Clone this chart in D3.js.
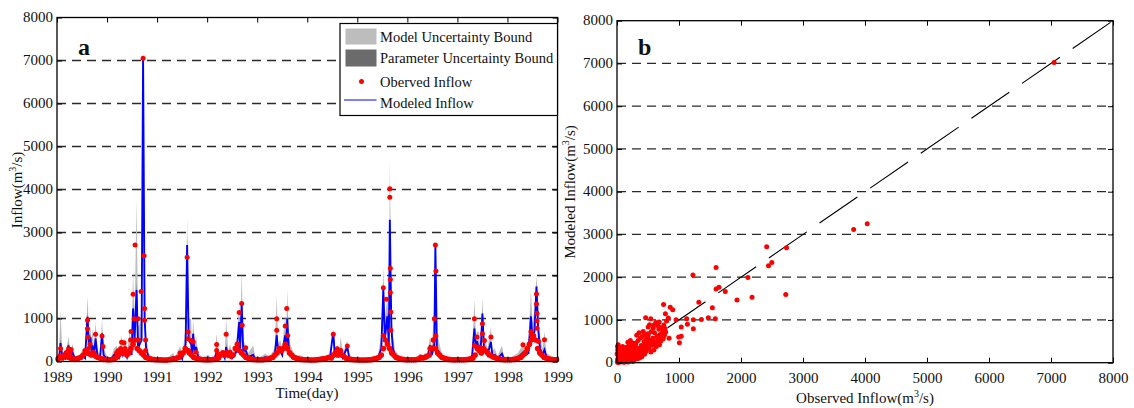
<!DOCTYPE html>
<html><head><meta charset="utf-8">
<script src="https://cdn.jsdelivr.net/npm/d3@7"></script>
<style>
body{margin:0;background:#fff}
svg{display:block}
text{font-family:"Liberation Serif","Times New Roman",serif;fill:#111}
</style>
</head><body>
<svg id="c" width="1134" height="408"></svg>
<script>
// ---------------- DATA ----------------
const yearTicks = [1989,1990,1991,1992,1993,1994,1995,1996,1997,1998,1999];
const flowTicks = [0,1000,2000,3000,4000,5000,6000,7000,8000];
const gridValues = [1000,2000,3000,4000,5000,6000,7000];

// modeled inflow and uncertainty bounds (decimal year)
const modelTime = [
 1989.00,1989.04,1989.07,1989.11,1989.17,1989.23,1989.27,1989.31,1989.36,1989.45,1989.51,1989.56,1989.61,1989.64,1989.67,1989.69,1989.71,1989.74,1989.77,1989.81,1989.86,1989.90,1989.93,
 1990.00,1990.08,1990.14,1990.19,1990.24,1990.29,1990.32,1990.36,1990.40,1990.45,1990.49,1990.52,1990.55,1990.59,1990.62,1990.66,1990.69,1990.72,1990.75,1990.78,1990.83,1990.90,
 1991.00,1991.20,1991.32,1991.36,1991.46,1991.50,1991.57,1991.60,1991.63,1991.68,1991.70,1991.72,1991.75,1991.78,1991.82,1991.90,
 1992.02,1992.08,1992.15,1992.19,1992.23,1992.32,1992.35,1992.38,1992.42,1992.46,1992.50,1992.55,1992.59,1992.64,1992.66,1992.69,1992.72,1992.77,1992.82,1992.92,1992.96,
 1993.05,1993.16,1993.25,1993.35,1993.39,1993.42,1993.46,1993.50,1993.53,1993.56,1993.58,1993.60,1993.63,1993.66,1993.72,1993.78,1993.89,1993.95,
 1994.10,1994.29,1994.35,1994.39,1994.45,1994.52,1994.55,1994.60,1994.63,1994.67,1994.71,1994.80,1994.84,1994.92,
 1995.10,1995.32,1995.40,1995.48,1995.52,1995.55,1995.60,1995.63,1995.65,1995.68,1995.71,1995.76,1995.85,
 1996.00,1996.20,1996.25,1996.30,1996.35,1996.40,1996.45,1996.49,1996.54,1996.56,1996.59,1996.65,1996.70,1996.82,
 1997.00,1997.19,1997.29,1997.34,1997.37,1997.39,1997.43,1997.46,1997.50,1997.53,1997.56,1997.60,1997.67,1997.70,1997.75,1997.80,1997.89,1997.93,
 1998.05,1998.21,1998.31,1998.36,1998.42,1998.47,1998.50,1998.54,1998.58,1998.61,1998.65,1998.70,1998.74,1998.78,1998.88,1999.00
];
const modeledFlow = [
 40,60,430,80,60,375,100,200,60,50,140,80,1040,300,560,200,374,150,530,120,80,647,150,
 60,50,150,180,90,300,150,250,100,300,150,1230,500,1660,300,430,500,7050,1000,300,100,50,
 40,40,100,50,150,60,400,2711,500,400,200,647,200,335,100,50,
 90,40,60,250,80,150,80,335,120,200,80,150,250,919,300,1324,250,250,100,150,60,
 50,100,60,150,607,200,250,150,400,607,300,997,300,200,150,80,60,40,
 40,60,50,80,60,686,150,250,100,300,100,335,80,40,
 35,60,40,300,1698,500,1050,400,3295,800,300,120,60,
 40,40,100,60,100,80,374,150,400,2711,300,150,60,60,
 40,60,80,763,300,468,300,150,1114,300,250,150,452,120,150,60,180,60,
 40,100,200,150,200,1048,500,700,1746,800,300,150,272,100,60,40
];
const modelUpperBound = [
 80,200,1200,160,120,590,200,410,120,100,250,150,1530,600,800,400,787,300,935,250,160,1000,300,
 120,100,300,374,180,600,300,500,200,700,400,2127,1000,3786,800,900,1200,7200,2500,600,200,100,
 80,80,200,100,374,120,800,3350,1000,997,400,1013,400,600,200,100,
 156,80,120,647,160,257,160,997,250,400,160,300,500,1324,600,2127,500,374,200,374,120,
 100,180,120,300,1542,400,500,300,700,1075,600,1680,600,400,220,150,140,80,
 80,120,100,150,120,763,300,390,200,569,200,490,160,80,
 70,120,80,600,2204,1000,1500,800,4750,1600,600,250,120,
 80,80,180,120,200,160,569,350,1348,2750,700,374,120,100,
 80,100,150,1441,600,700,686,300,1480,600,500,300,802,250,300,120,374,120,
 80,200,400,300,500,1700,900,1200,2000,1500,600,300,698,200,120,80
];
const paramUpperBound = [
 50,80,520,100,70,430,120,240,70,60,170,100,1150,350,620,240,420,180,580,140,100,700,180,
 70,60,180,210,110,340,180,280,120,350,180,1350,600,1850,360,500,600,7120,1200,350,120,60,
 50,50,130,60,180,70,480,2905,600,480,240,700,240,380,120,60,
 110,50,70,300,100,170,100,400,140,240,100,180,300,1000,350,1420,300,280,120,180,70,
 60,120,70,180,700,240,300,180,460,700,350,1100,350,240,170,100,70,50,
 50,70,60,100,70,700,180,280,120,340,120,360,100,50,
 45,70,50,350,1854,600,1150,480,3334,950,350,140,70,
 50,50,120,70,120,100,420,180,500,2720,360,180,70,70,
 50,70,100,850,350,520,350,180,1200,350,300,180,500,140,180,70,210,70,
 50,120,240,180,240,1150,600,800,1800,950,350,180,320,120,70,50
];

// observed inflow, semi-monthly base flow (24 per year, 1989-1998)
const observedBase = [
 60,120,80,150,200,100,80,60,50,60,80,100,150,250,200,180,150,200,120,100,80,60,50,45,
 40,40,50,60,100,150,200,250,200,150,200,300,400,500,300,250,200,150,100,80,60,50,45,40,
 40,40,35,35,35,40,45,50,60,80,100,150,200,300,250,200,150,100,80,60,50,45,40,40,
 40,40,45,50,60,80,150,200,150,200,150,120,150,300,400,250,200,150,100,80,60,50,45,40,
 40,40,40,45,50,60,80,100,150,200,300,250,300,400,300,200,150,100,80,60,50,45,40,40,
 40,35,35,35,40,45,50,60,60,80,100,80,150,200,150,200,150,120,80,60,50,45,40,40,
 35,35,35,35,35,40,40,50,60,80,100,150,300,500,400,300,200,150,100,80,60,50,45,40,
 40,40,40,40,45,60,100,80,100,120,150,300,500,300,200,150,100,80,60,50,45,40,40,40,
 40,40,40,40,45,50,60,80,150,300,250,200,300,250,200,150,120,100,80,60,50,45,40,40,
 40,40,45,50,60,80,100,150,200,300,400,500,600,500,300,200,150,100,80,60,50,45,40,40
];
// observed high-flow days
const observedPeakTime = [
 1989.07,1989.23,1989.26,1989.28,1989.61,1989.61,1989.62,1989.63,1989.66,1989.71,1989.77,1989.90,1989.92,
 1990.19,1990.22,1990.27,1990.29,1990.34,1990.36,1990.37,1990.40,1990.47,1990.48,1990.52,1990.54,1990.56,1990.62,1990.63,1990.68,1990.72,1990.74,1990.75,1990.75,1990.77,1990.77,
 1991.46,1991.60,1991.62,1991.62,1991.63,1991.68,1991.72,1991.78,
 1992.19,1992.19,1992.21,1992.38,1992.46,1992.59,1992.64,1992.69,1992.70,1992.77,
 1993.39,1993.39,1993.56,1993.59,1993.61,
 1994.52,1994.60,1994.67,1994.80,
 1995.52,1995.52,1995.58,1995.65,1995.65,1995.66,1995.66,1995.66,1995.67,1995.67,
 1996.45,1996.50,1996.54,1996.56,1996.57,1996.57,
 1997.34,1997.34,1997.39,1997.43,1997.50,1997.50,1997.54,1997.67,
 1998.31,1998.47,1998.48,1998.58,1998.58,1998.59,1998.59,1998.59,1998.62,1998.74
];
const observedPeakFlow = [
 300,296,180,280,958,763,569,300,400,200,631,592,350,
 200,250,300,450,436,300,250,200,500,700,1566,997,2711,997,500,1630,7050,2460,1230,958,500,257,
 200,2423,686,530,257,490,452,218,
 397,257,180,631,218,320,1137,1348,841,320,
 997,724,826,1231,607,
 631,296,257,358,
 1714,607,1449,4020,3817,2166,1909,1605,1153,724,
 300,320,997,2711,2103,592,
 997,374,569,335,880,647,490,569,
 388,698,620,1567,1335,1125,947,776,465,504
];

// panel b: observed vs modeled pairs
const scatterObserved = [
 2,5,8,10,12,15,18,20,22,25,28,30,35,40,45,48,50,
 55,60,65,70,75,80,85,90,95,100,105,110,115,120,125,130,135,140,145,150,
 155,160,165,170,175,180,185,190,195,200,205,210,215,220,225,230,235,240,245,250,255,260,265,270,275,280,285,290,292,294,296,298,300,
 305,310,318,325,332,340,348,355,362,370,378,385,392,400,408,415,422,430,438,445,452,460,465,470,475,480,485,490,495,498,500,
 505,515,525,535,545,555,565,575,585,595,605,615,625,635,645,655,665,675,685,695,705,715,725,735,745,755,765,775,785,
 20,40,60,80,100,120,140,160,180,200,220,240,260,30,70,110,150,190,230,270,
 120,160,200,240,280,320,360,400,
 700,720,740,760,650,620,560,580,
 462,544,503,592,680,751,858,899,781,828,953,799,840,1036,1006,994,1036,1124,1136,1231,1231,1320,1361,1473,1586,1538,
 1225,1598,1598,1645,1746,1935,2112,2178,2414,2734,2444,2497,2722,3817,4036,7050
];
const scatterModeled = [
 210,20,380,80,300,5,160,420,45,260,120,320,60,240,100,150,30,
 280,40,350,110,20,230,150,380,70,190,330,10,260,130,310,90,210,170,60,120,
 360,40,240,120,480,15,320,200,80,440,160,280,520,60,400,100,220,340,140,460,30,260,180,420,90,300,150,380,210,450,270,330,390,
 460,160,640,280,100,520,220,700,340,130,580,250,400,190,610,310,730,370,490,200,670,430,260,550,320,620,380,500,440,560,680,
 650,330,890,490,250,730,410,570,810,300,700,460,940,380,620,540,860,780,420,660,500,820,580,740,560,880,640,800,720,
 40,70,20,110,60,160,90,130,200,170,240,150,220,10,50,80,120,140,190,250,
 15,25,40,55,70,90,110,140,
 560,640,600,700,480,450,420,500,
 1052,1029,835,874,951,1361,1299,1237,1145,1044,1005,975,572,835,464,603,619,1029,897,1005,797,1415,1013,1052,1029,1284,
 2050,2227,1725,1763,1663,1469,1995,1531,2715,2691,2266,2343,1593,3117,3248,7020
];

const legendLabels = ["Model Uncertainty Bound","Parameter Uncertainty Bound","Oberved Inflow","Modeled Inflow"];

// ---------------- DRAW ----------------
const svg = d3.select("#c");
const FS = 15;

const xA = d3.scaleLinear().domain([1989,1999]).range([57,557.5]);
const yA = d3.scaleLinear().domain([0,8000]).range([361.5,17.5]);
const xB = d3.scaleLinear().domain([0,8000]).range([617,1113]);
const yB = d3.scaleLinear().domain([0,8000]).range([362.7,20.7]);

function grid(x, y) {
  const g = svg.append("g");
  g.selectAll("line").data(gridValues).join("line")
    .attr("x1", x.range()[0]).attr("x2", x.range()[1])
    .attr("y1", d => y(d)).attr("y2", d => y(d))
    .attr("stroke", "#2a2a2a").attr("stroke-width", 1.3)
    .attr("stroke-dasharray", "9,6");
}
function frame(x, y, xt, yt, xfmt) {
  const [x0, x1] = x.range(), [y0, y1] = y.range();
  const ax = (sel) => { sel.select(".domain").remove(); sel.selectAll("text").attr("font-size", FS).attr("fill", "#111").style("font-family", "Liberation Serif"); sel.selectAll(".tick line").attr("stroke", "#000"); };
  svg.append("g").attr("transform", `translate(0,${y0})`)
    .call(d3.axisBottom(x).tickValues(xt).tickFormat(xfmt).tickSizeInner(-5).tickSizeOuter(0).tickPadding(10)).call(ax);
  svg.append("g").attr("transform", `translate(0,${y1})`)
    .call(d3.axisTop(x).tickValues(xt).tickFormat("").tickSizeInner(-5).tickSizeOuter(0)).call(ax);
  svg.append("g").attr("transform", `translate(${x0},0)`)
    .call(d3.axisLeft(y).tickValues(yt).tickFormat(d3.format("d")).tickSizeInner(-5).tickSizeOuter(0).tickPadding(4)).call(ax)
    .selectAll("text").attr("dy", "0.28em");
  svg.append("g").attr("transform", `translate(${x1},0)`)
    .call(d3.axisRight(y).tickValues(yt).tickFormat("").tickSizeInner(-5).tickSizeOuter(0)).call(ax);
  svg.append("rect").attr("x", x0).attr("y", y1).attr("width", x1 - x0).attr("height", y0 - y1)
    .attr("fill", "none").attr("stroke", "#000").attr("stroke-width", 1.3);
}
function label(x, y, rot, pre, sup, post) {
  const t = svg.append("text").attr("font-size", FS).attr("text-anchor", "middle")
    .attr("transform", `translate(${x},${y}) rotate(${rot})`);
  t.append("tspan").text(pre);
  t.append("tspan").attr("font-size", 10).attr("dy", -6).text(sup);
  t.append("tspan").attr("dy", 6).text(post);
  return t;
}

// ---- Panel a ----
svg.append("clipPath").attr("id", "clipA").append("rect")
  .attr("x", 57).attr("y", 17.5).attr("width", 500.5).attr("height", 344);
grid(xA, yA);
const gA = svg.append("g").attr("clip-path", "url(#clipA)");
const idx = d3.range(modelTime.length);
gA.append("path").datum(idx)
  .attr("d", d3.area().x(i => xA(modelTime[i])).y0(i => yA(modeledFlow[i])).y1(i => yA(modelUpperBound[i])))
  .attr("fill", "#bdbdbd");
gA.append("path").datum(idx)
  .attr("d", d3.area().x(i => xA(modelTime[i])).y0(i => yA(modeledFlow[i])).y1(i => yA(paramUpperBound[i])))
  .attr("fill", "#6b6b6b");
gA.append("path").datum(idx)
  .attr("d", d3.line().x(i => xA(modelTime[i])).y(i => yA(modeledFlow[i])))
  .attr("fill", "none").attr("stroke", "#0000ff").attr("stroke-width", 1.9);
const gObs = svg.append("g").attr("fill", "#ff0000");
gObs.selectAll("circle.b").data(observedBase).join("circle").attr("class", "b")
  .attr("cx", (d, i) => xA(1989 + (i + 0.5) / 24)).attr("cy", d => yA(d)).attr("r", 2.8);
gObs.selectAll("circle.p").data(observedPeakFlow).join("circle").attr("class", "p")
  .attr("cx", (d, i) => xA(observedPeakTime[i])).attr("cy", d => yA(d)).attr("r", 2.5);
frame(xA, yA, yearTicks, flowTicks, d3.format("d"));

// legend
const lg = svg.append("g");
lg.append("rect").attr("x", 340).attr("y", 23.5).attr("width", 217.5).attr("height", 92)
  .attr("fill", "#fff").attr("stroke", "#000").attr("stroke-width", 1.2);
lg.append("rect").attr("x", 345.5).attr("y", 28.5).attr("width", 31).attr("height", 16).attr("fill", "#bdbdbd");
lg.append("rect").attr("x", 345.5).attr("y", 49.5).attr("width", 31).attr("height", 17).attr("fill", "#6b6b6b");
lg.append("circle").attr("cx", 361.5).attr("cy", 81.5).attr("r", 2.5).attr("fill", "#ff0000");
lg.append("line").attr("x1", 344).attr("x2", 376.5).attr("y1", 100).attr("y2", 100).attr("stroke", "#0000ff").attr("stroke-width", 1.2);
lg.selectAll("text").data(legendLabels).join("text")
  .attr("x", 380).attr("y", (d, i) => [41.5, 62.5, 86.5, 107.5][i]).attr("font-size", 14.5).text(d => d);

svg.append("text").attr("x", 78).attr("y", 55).attr("font-size", 24).attr("font-weight", "bold").text("a");
svg.append("text").attr("x", 307).attr("y", 398).attr("font-size", FS).attr("text-anchor", "middle").text("Time(day)");
label(22, 190, -90, "Inflow(m", "3", "/s)");

// ---- Panel b ----
grid(xB, yB);
svg.append("line")
  .attr("x1", xB(0)).attr("y1", yB(0)).attr("x2", xB(8000)).attr("y2", yB(8000))
  .attr("stroke", "#000").attr("stroke-width", 1.1).attr("stroke-dasharray", "46,15.5");
svg.append("g").attr("fill", "#ff0000").selectAll("circle").data(scatterObserved).join("circle")
  .attr("cx", d => xB(d)).attr("cy", (d, i) => yB(scatterModeled[i])).attr("r", 2.5);
frame(xB, yB, flowTicks, flowTicks, d3.format("d"));
svg.append("text").attr("x", 638).attr("y", 55).attr("font-size", 24).attr("font-weight", "bold").text("b");
label(865, 403, 0, "Observed Inflow(m", "3", "/s)");
label(575, 192, -90, "Modeled Inflow(m", "3", "/s)");
</script>
</body></html>
